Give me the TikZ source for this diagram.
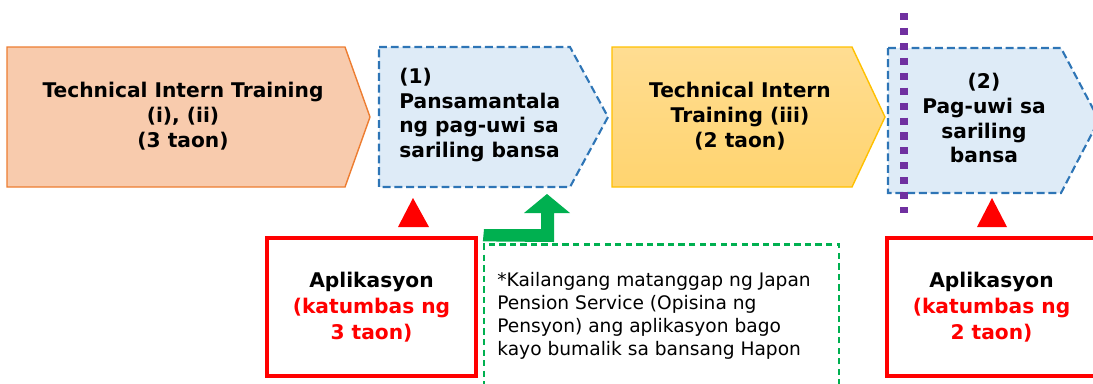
\documentclass[tikz,border=0pt]{standalone}
\usepackage{fontspec}
\setmainfont{DejaVu Sans}
\usetikzlibrary{calc, positioning}
\definecolor{trainfill}{HTML}{F8CBAD}
\definecolor{trainline}{HTML}{ED7D31}
\definecolor{homefill}{HTML}{DEEBF7}
\definecolor{homeline}{HTML}{2E75B6}
\definecolor{thirdtop}{HTML}{FFDD92}
\definecolor{thirdbot}{HTML}{FFD46F}
\definecolor{thirdline}{HTML}{FFC000}
\definecolor{notegreen}{HTML}{00B050}
\definecolor{cutpurple}{HTML}{7030A0}
\definecolor{appred}{HTML}{FF0000}

\begin{document}
\begin{tikzpicture}[x=0.02cm, y=-0.02cm,
    stagetext/.style={font=\fontsize{11.5}{14.2}\selectfont\bfseries, align=center, inner sep=0pt},
    homebox/.style={fill=homefill, draw=homeline, line width=1.2pt, dash pattern=on 4.5pt off 2.2pt},
    appbox/.style={draw=appred, line width=2.3pt, minimum width=4.18cm, minimum height=2.76cm,
        font=\fontsize{11.5}{14.6}\selectfont\bfseries, align=center, inner sep=0pt},
    notebox/.style={draw=notegreen, line width=1.3pt, dash pattern=on 3.6pt off 2.4pt,
        minimum width=7.1cm, minimum height=3.1cm},
    notetext/.style={font=\fontsize{10.6}{13}\selectfont, align=left, inner sep=0pt}]
    \useasboundingbox (0,0) rectangle (1093,383);

    % Stage arrows
    \filldraw[fill=trainfill, draw=trainline, line width=0.8pt]
        (7,47) -- (345,47) -- (370,117) -- (345,187) -- (7,187) -- cycle;
    \node[stagetext] (train1) at (183,116) {Technical Intern Training\\(i), (ii)\\(3 taon)};

    \filldraw[homebox] (379,47) -- (570,47) -- (608,117) -- (570,187) -- (379,187) -- cycle;
    \node[stagetext, align=left, anchor=west] (home1) at (399,115)
        {(1)\\Pansamantala\\ng pag-uwi sa\\sariling bansa};

    \shade[top color=thirdtop, bottom color=thirdbot]
        (612,47) -- (852,47) -- (885,117) -- (852,187) -- (612,187) -- cycle;
    \draw[thirdline, line width=0.8pt]
        (612,47) -- (852,47) -- (885,117) -- (852,187) -- (612,187) -- cycle;
    \node[stagetext] (train2) at (740,116) {Technical Intern\\Training (iii)\\(2 taon)};

    \filldraw[homebox] (888,48) -- (1061,48) -- (1099,120) -- (1061,193) -- (888,193) -- cycle;
    \node[stagetext] (home2) at (984,118) {(2)\\Pag-uwi sa\\sariling\\bansa};

    % Cut-off line
    \draw[cutpurple, line width=4pt, dash pattern=on 4pt off 4.5pt] (904,13) -- (904,213);

    % Applications
    \node[appbox] (app1) at (371.5,307) {Aplikasyon\\\textcolor{appred}{(katumbas ng}\\\textcolor{appred}{3 taon)}};
    \node[appbox] (app2) at (991.5,307) {Aplikasyon\\\textcolor{appred}{(katumbas ng}\\\textcolor{appred}{2 taon)}};
    \fill[appred] (413,198) -- (429,227) -- (398,227) -- cycle;
    \fill[appred] (992,198) -- (1007,227) -- (977,227) -- cycle;

    % Note
    \node[notebox] (note) at (661.5,322) {};
    \node[notetext, anchor=west] (notetxt) at (497,316)
        {*Kailangang matanggap ng Japan\\Pension Service (Opisina ng\\Pensyon) ang aplikasyon bago\\kayo bumalik sa bansang Hapon};
    \fill[notegreen] (note.north west) ++(0,-2) -- (554,242) -- (554,213) -- (570,213)
        -- (547,194) -- (524,213) -- (541,213) -- (541,229) -- (484,229) -- cycle;
\end{tikzpicture}
\end{document}
